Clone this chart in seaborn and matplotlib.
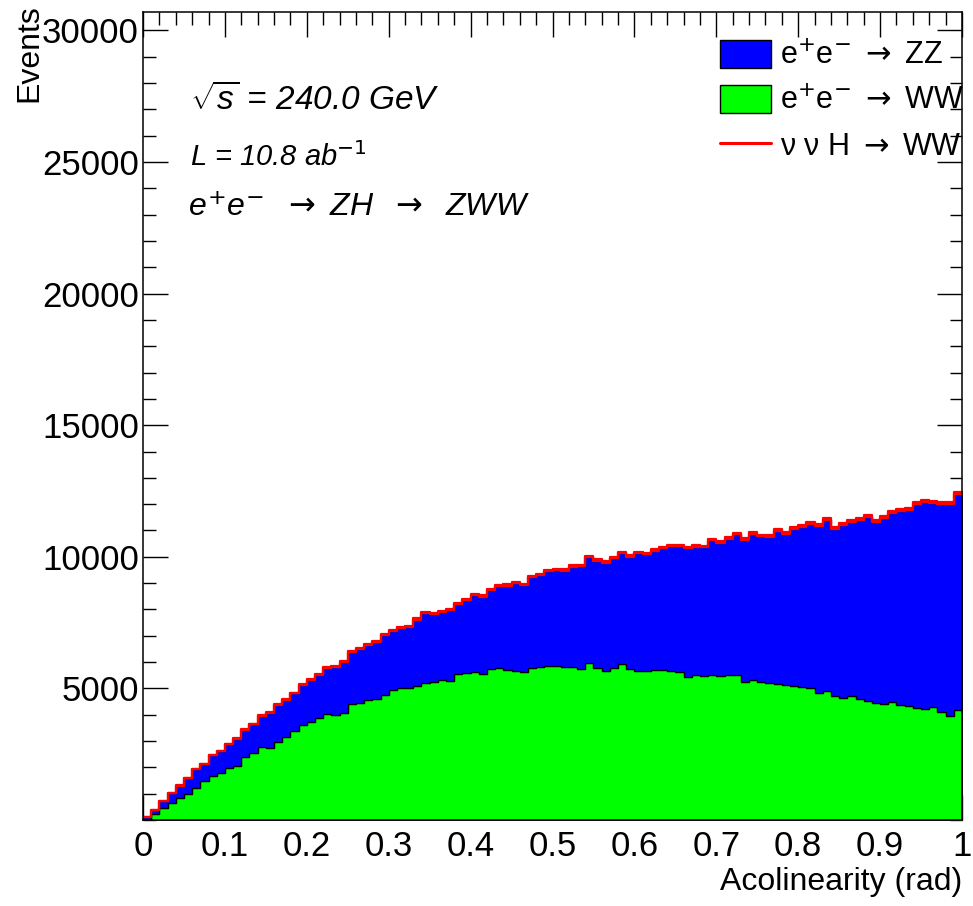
import numpy as np
import pandas as pd
import matplotlib
matplotlib.use("Agg")
import matplotlib.pyplot as plt
from matplotlib.patches import Patch
from matplotlib.lines import Line2D
import seaborn as sns

# 100 bins of 0.01 rad
ww_counts = [
    50, 228, 443, 633, 823, 987, 1202, 1494, 1671, 1797,
    1987, 2050, 2380, 2531, 2759, 2721, 2960, 3164, 3379, 3607,
    3734, 3861, 4025, 3987, 4075, 4404, 4455, 4556, 4581, 4746,
    4936, 5000, 5020, 5080, 5215, 5253, 5316, 5278, 5531, 5570,
    5620, 5531, 5746, 5772, 5696, 5670, 5632, 5784, 5822, 5835,
    5860, 5822, 5797, 5721, 5949, 5759, 5670, 5759, 5923, 5721,
    5670, 5670, 5696, 5696, 5658, 5640, 5442, 5506, 5480, 5518,
    5480, 5506, 5518, 5253, 5316, 5253, 5189, 5164, 5126, 5101,
    5038, 5012, 4820, 4898, 4708, 4620, 4721, 4594, 4531, 4455,
    4404, 4493, 4367, 4341, 4265, 4215, 4303, 4113, 3962, 4177,
]
zz_counts = [
    64, 152, 278, 379, 481, 595, 734, 620, 797, 823,
    886, 1026, 1037, 1100, 1190, 1354, 1425, 1392, 1430, 1519,
    1582, 1645, 1734, 1835, 1937, 1988, 2025, 2089, 2190, 2278,
    2240, 2277, 2310, 2530, 2632, 2569, 2594, 2696, 2670, 2783,
    2923, 2949, 2987, 3113, 3201, 3316, 3291, 3430, 3481, 3625,
    3633, 3645, 3822, 3924, 4025, 4088, 4101, 4177, 4203, 4279,
    4456, 4418, 4531, 4620, 4746, 4764, 4888, 4873, 4874, 5114,
    5051, 5189, 5341, 5404, 5569, 5531, 5570, 5822, 5759, 5974,
    6100, 6253, 6350, 6493, 6367, 6581, 6607, 6797, 6987, 6873,
    7089, 7177, 7366, 7456, 7760, 7873, 7747, 7912, 8037, 8201,
]
nnh_counts = [
    2, 4, 6, 9, 11, 13, 15, 17, 19, 21,
    23, 24, 26, 27, 29, 30, 31, 33, 34, 35,
    36, 37, 38, 39, 40, 41, 42, 42, 43, 44,
    45, 45, 46, 47, 47, 48, 49, 49, 50, 50,
    51, 51, 52, 52, 53, 53, 54, 54, 55, 55,
    55, 56, 56, 57, 57, 57, 58, 58, 58, 59,
    59, 59, 60, 60, 60, 61, 61, 61, 62, 62,
    62, 62, 63, 63, 63, 63, 64, 64, 64, 64,
    65, 65, 65, 65, 66, 66, 66, 66, 66, 67,
    67, 67, 67, 67, 68, 68, 68, 68, 68, 69,
]

process_names = ["nnH", "ZZ", "WW"]
legend_labels = [
    r"e$^{+}$e$^{-}$ $\rightarrow$ ZZ",
    r"e$^{+}$e$^{-}$ $\rightarrow$ WW",
    "\u03bd \u03bd H $\\rightarrow$ WW",
]
x_ticks = [0, 0.1, 0.2, 0.3, 0.4, 0.5, 0.6, 0.7, 0.8, 0.9, 1]
x_ticklabels = ["0", "0.1", "0.2", "0.3", "0.4", "0.5", "0.6", "0.7", "0.8", "0.9", "1"]
y_ticks = [5000, 10000, 15000, 20000, 25000, 30000]
y_ticklabels = ["5000", "10000", "15000", "20000", "25000", "30000"]

n_bins = len(ww_counts)
edges = np.linspace(0, 1, n_bins + 1)
centers = 0.5 * (edges[:-1] + edges[1:])

df = pd.concat([
    pd.DataFrame({"x": centers, "w": nnh_counts, "proc": "nnH"}),
    pd.DataFrame({"x": centers, "w": zz_counts, "proc": "ZZ"}),
    pd.DataFrame({"x": centers, "w": ww_counts, "proc": "WW"}),
], ignore_index=True)

sns.set_style("ticks")
plt.rcParams["font.family"] = ["Liberation Sans", "DejaVu Sans"]
plt.rcParams["mathtext.fontset"] = "custom"
plt.rcParams["mathtext.rm"] = "DejaVu Sans"
plt.rcParams["mathtext.it"] = "Liberation Sans:italic"
plt.rcParams["axes.linewidth"] = 1.1
for key in ["text.color", "axes.labelcolor", "axes.edgecolor",
            "xtick.color", "ytick.color"]:
    plt.rcParams[key] = "black"

colors = {"nnH": "#ff0000", "ZZ": "#0000ff", "WW": "#00ff00"}

fig = plt.figure(figsize=(9.73, 9.06), dpi=100)
ax = fig.add_axes([0.147, 0.0949, 0.8417, 0.8919])

sns.histplot(data=df, x="x", weights="w", hue="proc", hue_order=process_names,
             bins=n_bins, binrange=(0, 1), multiple="stack", element="step",
             fill=True, palette=colors, alpha=1, edgecolor="black",
             linewidth=0.9, legend=False, ax=ax)

# signal layer drawn as a red outline on top of the stack
for coll in ax.collections:
    fc = coll.get_facecolor()
    if len(fc) and fc[0][0] > 0.9 and fc[0][1] < 0.1 and fc[0][2] < 0.1:
        coll.set_edgecolor("#ff0000")
        coll.set_linewidth(1.6)

ax.set_xlim(0, 1)
ax.set_ylim(0, 30700)
ax.set_xticks(x_ticks, x_ticklabels)
ax.set_yticks(y_ticks, y_ticklabels)
ax.xaxis.set_minor_locator(matplotlib.ticker.MultipleLocator(0.02))
ax.yaxis.set_minor_locator(matplotlib.ticker.MultipleLocator(1000))
ax.tick_params(which="both", direction="in", top=True, right=True, width=1)
ax.tick_params(which="major", length=18, labelsize=25)
ax.tick_params(which="minor", length=9)
ax.tick_params(axis="x", pad=7)
ax.tick_params(axis="y", pad=3)
for s in ax.spines.values():
    s.set_visible(True)

ax.set_xlabel("Acolinearity (rad)", loc="right", fontsize=23, labelpad=3)
ax.set_ylabel("Events", loc="top", fontsize=23)
ax.yaxis.set_label_coords(-0.12, 1.009)

ax.text(0.057, 0.891, r"$\sqrt{s}$ = 240.0 GeV", transform=ax.transAxes,
        fontsize=24, style="italic", va="center", ha="left")
ax.text(0.057, 0.8205, r"L = 10.8 ab$^{\mathit{-1}}$", transform=ax.transAxes,
        fontsize=21, style="italic", va="center", ha="left")
ax.text(0.055, 0.757, r"$e^{+}e^{-}$  $\rightarrow$ ZH  $\rightarrow$  ZWW",
        transform=ax.transAxes, fontsize=23, style="italic", va="center", ha="left")

handles = [
    Patch(facecolor=colors["ZZ"], edgecolor="black", linewidth=1),
    Patch(facecolor=colors["WW"], edgecolor="black", linewidth=1),
    Line2D([], [], color=colors["nnH"], linewidth=2.2),
]
ax.legend(handles, legend_labels, loc="upper left", bbox_to_anchor=(0.69, 0.981),
          frameon=False, fontsize=22, handlelength=1.65, handleheight=1.05,
          handletextpad=0.3, labelspacing=0.45, borderaxespad=0)

fig.savefig("out.png", dpi=100)
